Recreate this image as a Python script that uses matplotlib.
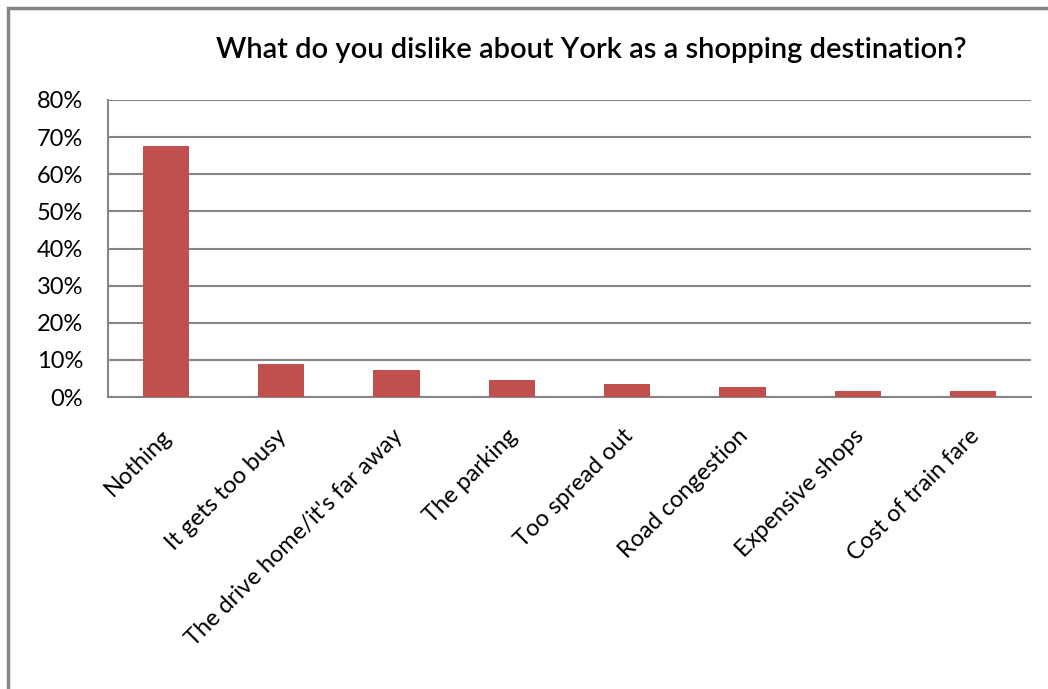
import numpy as np
import matplotlib.pyplot as plt
import matplotlib.transforms as mtransforms
from matplotlib.patches import Rectangle
from matplotlib.ticker import PercentFormatter

plt.rcParams['font.family'] = ['Lato', 'DejaVu Sans']

categories = ["Nothing", "It gets too busy", "The drive home/it's far away",
              "The parking", "Too spread out", "Road congestion",
              "Expensive shops", "Cost of train fare"]
shares = [67.7, 9.0, 7.4, 4.7, 3.5, 2.7, 1.6, 1.6]
yticks = [0, 10, 20, 30, 40, 50, 60, 70, 80]

fig = plt.figure(figsize=(10.48, 6.89), dpi=100)
ax = fig.add_axes([108/1048, 1 - 397/689, (1031 - 108)/1048, (397 - 100)/689])

x = np.arange(len(categories))
ax.bar(x, shares, width=0.4, color='#C0504D', zorder=3)

ax.set_xlim(-0.5, len(categories) - 0.5)
ax.set_ylim(0, 80)
ax.set_yticks(yticks)
ax.yaxis.set_major_formatter(PercentFormatter(decimals=0))
ax.grid(axis='y', color='#868686', linewidth=1.5, zorder=0)
ax.tick_params(axis='both', length=0, labelsize=17, colors='black')
ax.tick_params(axis='y', pad=18)

ax.set_xticks(x)
ax.set_xticklabels(categories, rotation=45, ha='right', va='top',
                   rotation_mode='anchor')
ax.tick_params(axis='x', pad=16)
shift = mtransforms.ScaledTranslation(-5/100, -6/100, fig.dpi_scale_trans)
for lbl in ax.get_xticklabels():
    lbl.set_transform(lbl.get_transform() + shift)

for side in ['top', 'right']:
    ax.spines[side].set_visible(False)
for side in ['left', 'bottom']:
    ax.spines[side].set_color('#868686')
    ax.spines[side].set_linewidth(1.5)

fig.text(591/1048, 1 - 50/689, "What do you dislike about York as a shopping destination?",
         ha='center', va='center', fontsize=21, fontweight='semibold')

# outer chart frame
fig.patches.append(Rectangle((8/1048, -0.1), 1.2, 1 - 8/689 + 0.1,
                             transform=fig.transFigure, fill=False,
                             edgecolor='#868686', linewidth=2.5))

fig.savefig('out.png', dpi=100)
